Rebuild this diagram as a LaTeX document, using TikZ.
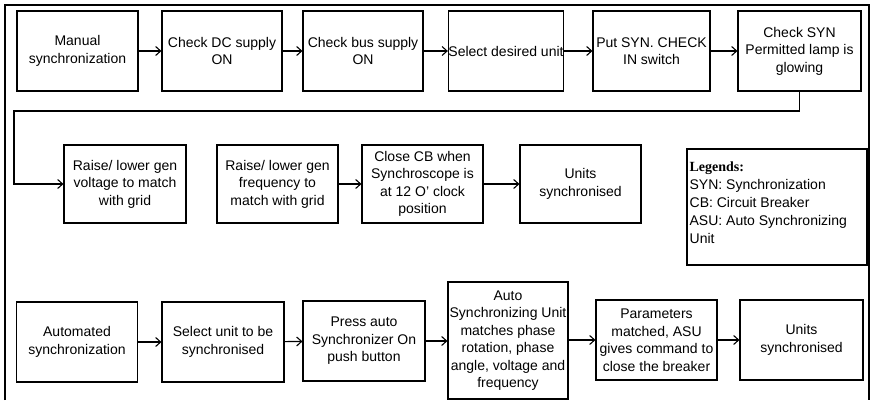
\documentclass[tikz,border=0pt]{standalone}
\usepackage{fontspec}
\setmainfont{Liberation Sans}
\newfontfamily\legendfont{Liberation Serif}
\usetikzlibrary{arrows.meta}

\begin{document}
\begin{tikzpicture}[x=1pt, y=-1pt,
    box/.style={draw, line width=1.1pt, minimum width=121pt, minimum height=80pt,
        inner sep=0pt, align=center, font=\fontsize{14}{17.5}\selectfont},
    flow/.style={->, line width=1.1pt, >={Straight Barb[length=5pt, width=9pt]}}]

    \useasboundingbox (0,0) rectangle (873,400);
    % 外框
    \draw[line width=1.6pt] (5,400) -- (5,5) -- (869,5) -- (869,400);

    % 第一行：手动同步
    \node[box] (m1) at (77.5,51) {Manual\\synchronization};
    \node[box, minimum width=120pt] (m2) at (222,51) {Check DC supply\\ON};
    \node[box, minimum width=120pt] (m3) at (363,51) {Check bus supply\\ON};
    \node[box, minimum width=114pt] (m4) at (506,51) {Select desired unit};
    \node[box, minimum width=117pt] (m5) at (651.5,51) {Put SYN. CHECK\\IN switch};
    \node[box, minimum width=123pt] (m6) at (799.5,51) {Check SYN\\Permitted lamp is\\glowing};
    % 第二行
    \node[box, minimum width=122pt, minimum height=78pt] (m7) at (125,184)
        {Raise/ lower gen\\voltage to match\\with grid};
    \node[box, minimum height=78pt] (m8) at (277.5,184)
        {Raise/ lower gen\\frequency to\\match with grid};
    \node[box, minimum height=78pt] (m9) at (422.5,184)
        {Close CB when\\Synchroscope is\\at 12 O' clock\\position};
    \node[box, minimum height=78pt] (m10) at (580.5,184) {Units\\synchronised};

    % 图例
    \node[draw, line width=1.1pt, minimum width=180pt, minimum height=116pt,
        inner sep=0pt] (legend) at (777,207) {};
    \node[anchor=north west, align=left, inner sep=0pt,
        font=\fontsize{14}{18}\selectfont] (legtext) at ([xshift=3pt, yshift=-13pt]legend.north west)
        {{\legendfont\bfseries Legends:}\\SYN: Synchronization\\CB: Circuit Breaker\\
         ASU: Auto Synchronizing\\Unit};

    % 第三行：自动同步
    \node[box] (a1) at (77,342) {Automated\\synchronization};
    \node[box, minimum width=122pt] (a2) at (223,342) {Select unit to be\\synchronised};
    \node[box, minimum width=122pt] (a3) at (364,341) {Press auto\\Synchronizer On\\push button};
    \node[box, minimum width=120pt, minimum height=117pt] (a4) at (508,340.5)
        {Auto\\Synchronizing Unit\\matches phase\\rotation, phase\\angle, voltage and\\frequency};
    \node[box] (a5) at (656.5,340) {Parameters\\matched, ASU\\gives command to\\close the breaker};
    \node[box, minimum width=123pt] (a6) at (801.5,340) {Units\\synchronised};

    % 转折点
    \coordinate (turn_l) at (14,111);

    % 连线
    \draw[flow] (m1) -- (m2);
    \draw[flow] (m2) -- (m3);
    \draw[flow] (m3) -- (m4);
    \draw[flow] (m4) -- (m5);
    \draw[flow] (m5) -- (m6);
    \draw[flow] (m6.south) |- (turn_l) |- (m7.west);
    \draw[flow] (m8) -- (m9);
    \draw[flow] (m9) -- (m10);
    \draw[flow] (a1) -- (a2);
    \draw[flow] (a2) -- (a3);
    \draw[flow] (a3.east) -- (a3.east -| a4.west);
    \draw[flow] (a4.east |- a5.west) -- (a5.west);
    \draw[flow] (a5) -- (a6);

\end{tikzpicture}
\end{document}
